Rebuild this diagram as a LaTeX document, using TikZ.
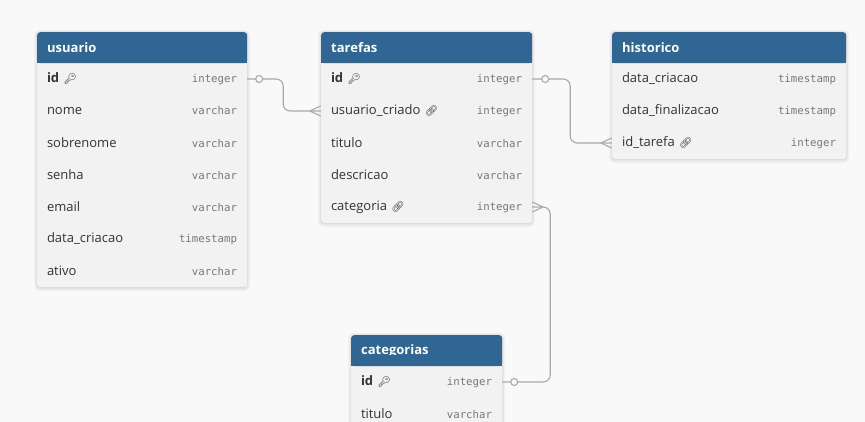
\documentclass[tikz,border=0pt]{standalone}
\usepackage{fontspec}
\setmainfont{Open Sans}
\newfontfamily\monof{DejaVu Sans Mono}
\newfontfamily\emof{Noto Emoji}
\usetikzlibrary{calc}
\definecolor{hdr}{HTML}{2F6694}
\definecolor{rowbg}{HTML}{F2F2F2}
\definecolor{pagebg}{HTML}{F9F9F9}
\definecolor{txt}{HTML}{333333}
\definecolor{typc}{HTML}{777777}
\definecolor{connc}{HTML}{A9A9B0}
\newcommand\ty[1]{{\monof\fontsize{10.7}{12}\selectfont\color{typc}#1}}
\newcommand\keyic{{\emof\fontsize{10.5}{11}\selectfont\color{txt}🔑}}
\newcommand\linkic{{\emof\fontsize{10.5}{11}\selectfont\color{txt}🔗}}
\newcommand\shadowbox[4]{%
  \fill[black, opacity=0.035, rounded corners=5pt] (#1-3,#2-2) rectangle (#3+3,#4+4);
  \fill[black, opacity=0.04, rounded corners=4pt] (#1-1.5,#2-1) rectangle (#3+1.5,#4+2.5);
  \fill[black, opacity=0.05, rounded corners=3pt] (#1-0.5,#2) rectangle (#3+0.5,#4+1);
}
\tikzset{
  tbl/.style={anchor=north west, fill=rowbg, rounded corners=3pt, inner sep=0pt},
  hdrnode/.style={anchor=north west, fill=hdr, rounded corners=3pt, inner xsep=10pt, inner ysep=0pt,
    minimum height=31pt, text=white, font=\fontsize{13}{15}\selectfont\bfseries, align=left},
  rownode/.style={inner xsep=10pt, inner ysep=0pt, minimum height=32pt, text=txt,
    font=\fontsize{13}{15}\selectfont, align=left},
  connline/.style={draw=connc, line width=1.1pt, rounded corners=7pt},
  footline/.style={draw=connc, line width=1.1pt},
  dot/.style={draw=connc, line width=1.1pt, fill=pagebg},
}
\begin{document}
\begin{tikzpicture}[x=1pt,y=-1pt]
\fill[pagebg] (0,0) rectangle (865,422);
\useasboundingbox (0,0) rectangle (865,422);
\clip (0,0) rectangle (865,422);

% ---------- usuario ----------
\shadowbox{37}{32}{247}{287}
\node[tbl, minimum width=210pt, minimum height=255pt] (usuario) at (37,32) {};
\node[hdrnode, text width=190pt] (usuario-h) at (37,32) {usuario};
\fill[hdr] (37,52) rectangle (247,63);
\node[rownode, text width=190pt] (usuario-id) at (142,79) {\textbf{id}~\keyic\hfill\ty{integer}};
\node[rownode, text width=190pt] (usuario-nome) at (142,111) {nome\hfill\ty{varchar}};
\node[rownode, text width=190pt] (usuario-sobrenome) at (142,143) {sobrenome\hfill\ty{varchar}};
\node[rownode, text width=190pt] (usuario-senha) at (142,175) {senha\hfill\ty{varchar}};
\node[rownode, text width=190pt] (usuario-email) at (142,207) {email\hfill\ty{varchar}};
\node[rownode, text width=190pt] (usuario-dc) at (142,239) {data\_criacao\hfill\ty{timestamp}};
\node[rownode, text width=190pt] (usuario-ativo) at (142,271) {ativo\hfill\ty{varchar}};

% ---------- tarefas ----------
\shadowbox{321}{32}{532}{223}
\node[tbl, minimum width=211pt, minimum height=191pt] (tarefas) at (321,32) {};
\node[hdrnode, text width=191pt] (tarefas-h) at (321,32) {tarefas};
\fill[hdr] (321,52) rectangle (532,63);
\node[rownode, text width=191pt] (tarefas-id) at (426.5,79) {\textbf{id}~\keyic\hfill\ty{integer}};
\node[rownode, text width=191pt] (tarefas-uc) at (426.5,111) {usuario\_criado~\linkic\hfill\ty{integer}};
\node[rownode, text width=191pt] (tarefas-titulo) at (426.5,143) {titulo\hfill\ty{varchar}};
\node[rownode, text width=191pt] (tarefas-desc) at (426.5,175) {descricao\hfill\ty{varchar}};
\node[rownode, text width=191pt] (tarefas-cat) at (426.5,207) {categoria~\linkic\hfill\ty{integer}};

% ---------- historico ----------
\shadowbox{612}{32}{846}{159}
\node[tbl, minimum width=234pt, minimum height=127pt] (historico) at (612,32) {};
\node[hdrnode, text width=214pt] (historico-h) at (612,32) {historico};
\fill[hdr] (612,52) rectangle (846,63);
\node[rownode, text width=214pt] (historico-dc) at (729,79) {data\_criacao\hfill\ty{timestamp}};
\node[rownode, text width=214pt] (historico-df) at (729,111) {data\_finalizacao\hfill\ty{timestamp}};
\node[rownode, text width=214pt] (historico-it) at (729,143) {id\_tarefa~\linkic\hfill\ty{integer}};

% ---------- categorias ----------
\shadowbox{351}{335}{502}{430}
\node[tbl, minimum width=151pt, minimum height=95pt] (categorias) at (351,335) {};
\node[hdrnode, text width=131pt] (categorias-h) at (351,335) {categorias};
\fill[hdr] (351,355) rectangle (502,366);
\node[rownode, text width=131pt] (categorias-id) at (426.5,382) {\textbf{id}~\keyic\hfill\ty{integer}};
\node[rownode, text width=131pt] (categorias-titulo) at (426.5,414) {titulo\hfill\ty{varchar}};

% ---------- connectors ----------
% usuario.id -> tarefas.usuario_criado
\draw[connline] (usuario-id.east) -- ++(36,0) |- (tarefas-uc.west);
\draw[footline] ($(tarefas-uc.west)+(-11,0)$) -- ($(tarefas-uc.west)+(0,-5)$);
\draw[footline] ($(tarefas-uc.west)+(-11,0)$) -- ($(tarefas-uc.west)+(0,5)$);
\draw[dot] ($(usuario-id.east)+(12,0)$) circle (3.5pt);

% tarefas.id -> historico.id_tarefa
\draw[connline] (tarefas-id.east) -- ++(38,0) |- (historico-it.west);
\draw[footline] ($(historico-it.west)+(-11,0)$) -- ($(historico-it.west)+(0,-5)$);
\draw[footline] ($(historico-it.west)+(-11,0)$) -- ($(historico-it.west)+(0,5)$);
\draw[dot] ($(tarefas-id.east)+(13,0)$) circle (3.5pt);

% categorias.id -> tarefas.categoria
\draw[connline] (categorias-id.east) -- ++(48,0) |- (tarefas-cat.east);
\draw[footline] ($(tarefas-cat.east)+(11,0)$) -- ($(tarefas-cat.east)+(0,-5)$);
\draw[footline] ($(tarefas-cat.east)+(11,0)$) -- ($(tarefas-cat.east)+(0,5)$);
\draw[dot] ($(categorias-id.east)+(12,0)$) circle (3.5pt);
\end{tikzpicture}
\end{document}
